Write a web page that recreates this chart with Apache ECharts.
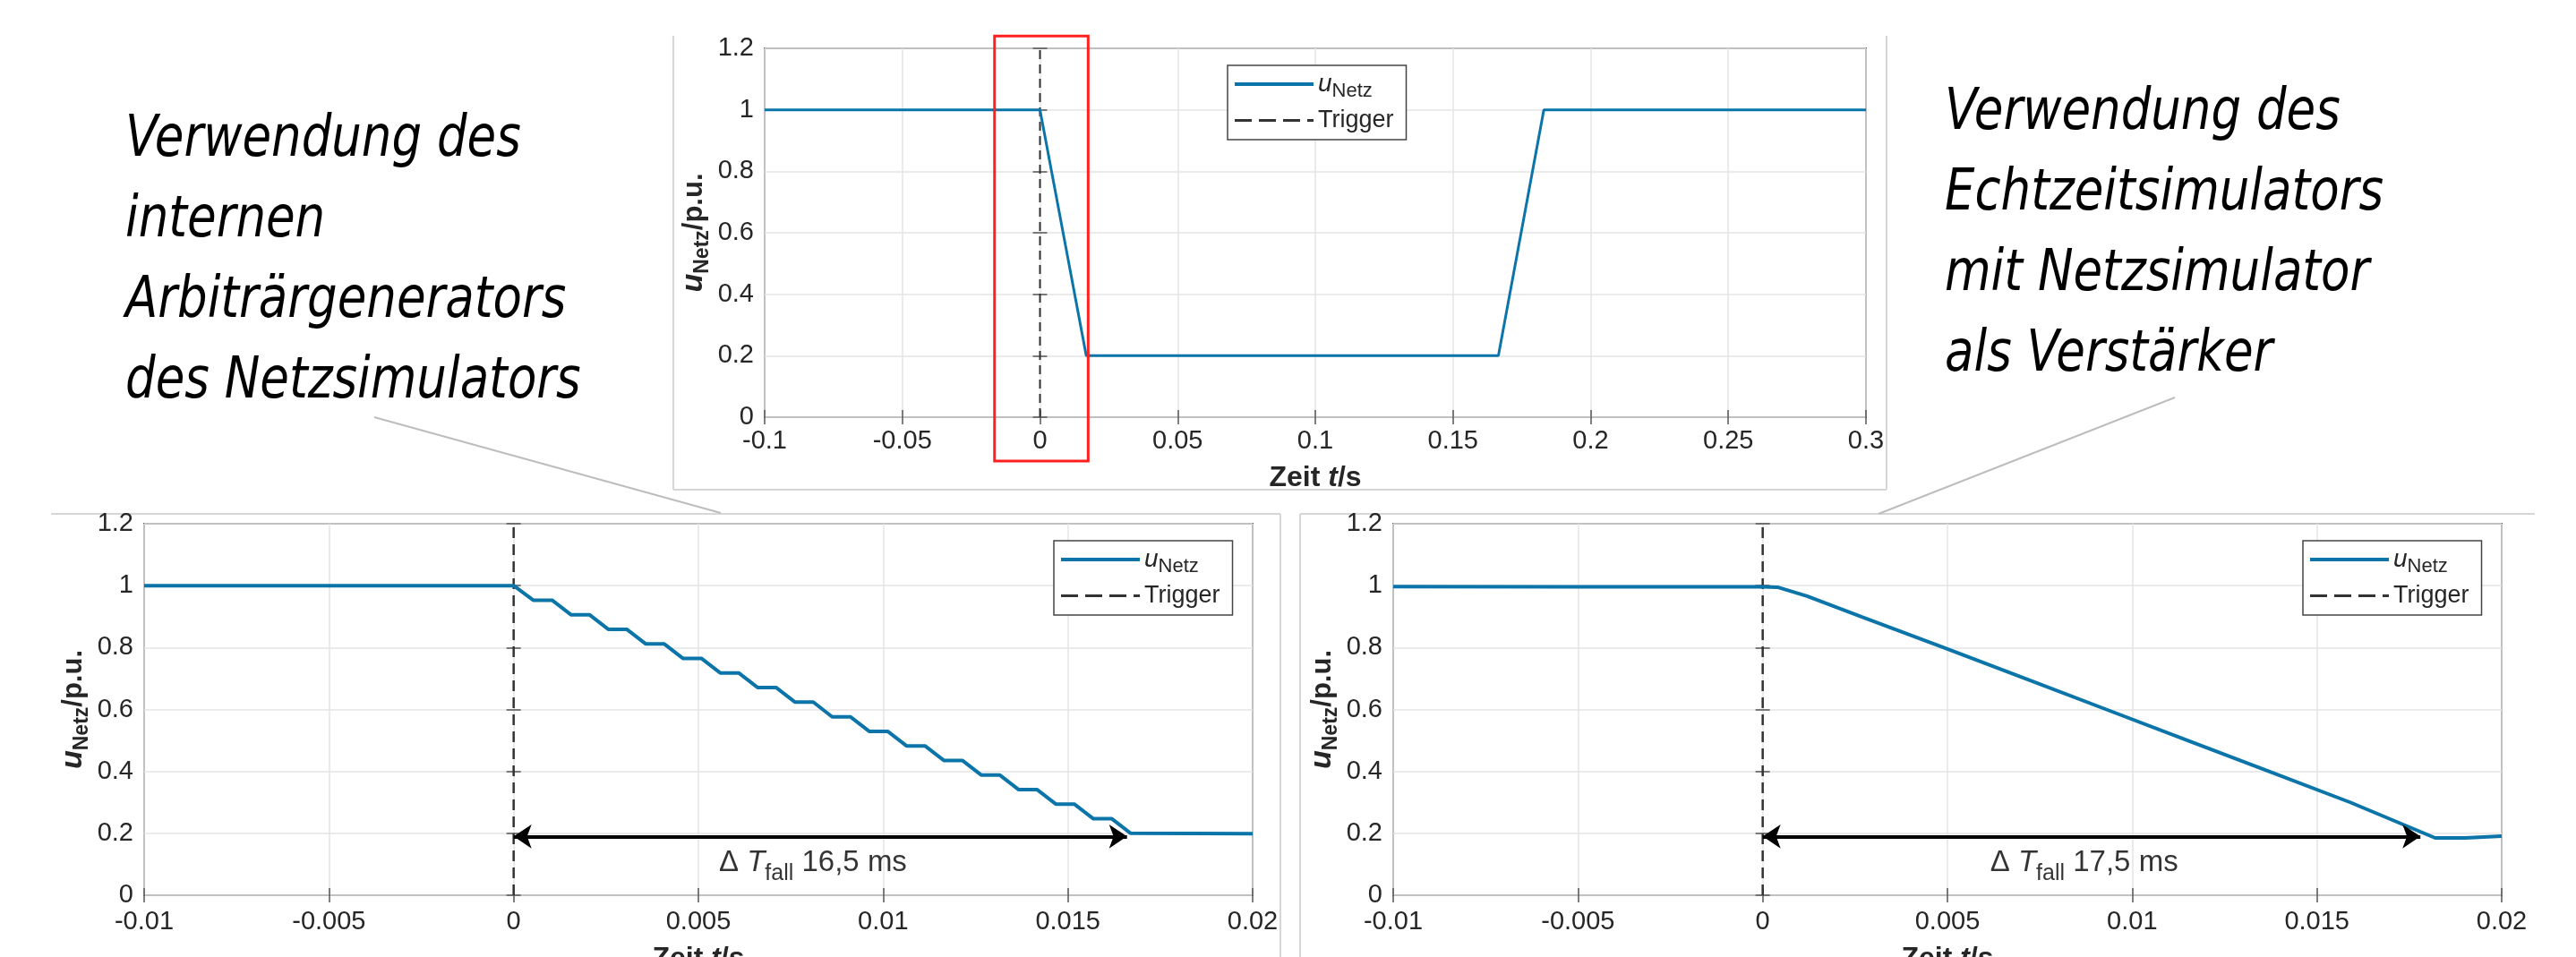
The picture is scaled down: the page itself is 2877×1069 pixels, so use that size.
<!DOCTYPE html>
<html>
<head>
<meta charset="utf-8">
<script src="https://cdn.jsdelivr.net/npm/echarts@6/dist/echarts.min.js"></script>
<style>
  html, body { margin: 0; padding: 0; background: #fff; overflow: hidden; }
  #chart { width: 2877px; height: 1069px; }
</style>
</head>
<body>
<div id="chart"></div>
<script>
// Gesamtverlauf des Spannungseinbruchs (oben)
const topTime = [-0.1, 0, 0.0168, 0.1665, 0.1830, 0.3];
const topVolt = [1.0, 1.0, 0.2, 0.2, 1.0, 1.0];

// interner Arbiträrgenerator, Zoom auf die fallende Flanke (unten links)
const leftTime = [-0.01, 0,
  0.00053, 0.00104, 0.00155, 0.00205, 0.00256, 0.00306, 0.00357, 0.00407,
  0.00458, 0.00508, 0.00559, 0.00609, 0.00660, 0.00710, 0.00761, 0.00811,
  0.00862, 0.00912, 0.00963, 0.01013, 0.01064, 0.01114, 0.01165, 0.01215,
  0.01266, 0.01316, 0.01367, 0.01417, 0.01468, 0.01518, 0.01569, 0.01619,
  0.01670, 0.020];
const leftVolt = [1.0, 1.0,
  0.953, 0.953, 0.906, 0.906, 0.859, 0.859, 0.812, 0.812,
  0.765, 0.765, 0.718, 0.718, 0.671, 0.671, 0.624, 0.624,
  0.576, 0.576, 0.529, 0.529, 0.482, 0.482, 0.435, 0.435,
  0.388, 0.388, 0.341, 0.341, 0.294, 0.294, 0.247, 0.247,
  0.200, 0.199];

// Echtzeitsimulator mit Netzsimulator als Verstärker (unten rechts)
const rightTime = [-0.01, -0.005, 0, 0.0004, 0.0012, 0.0027, 0.0049, 0.0071,
  0.0093, 0.0115, 0.0137, 0.0159, 0.0182, 0.0190, 0.0200];
const rightVolt = [0.997, 0.996, 0.996, 0.995, 0.966, 0.898, 0.800, 0.700,
  0.600, 0.500, 0.400, 0.300, 0.185, 0.185, 0.191];

const triggerTime = [0, 0];
const triggerVolt = [0, 1.2];

const topTicksX = ['-0.1', '-0.05', '0', '0.05', '0.1', '0.15', '0.2', '0.25', '0.3'];
const zoomTicksX = ['-0.01', '-0.005', '0', '0.005', '0.01', '0.015', '0.02'];
const ticksY = ['0', '0.2', '0.4', '0.6', '0.8', '1', '1.2'];

// Pfeile Delta T_fall
const fallLeft = [0, 0.0166];
const fallRight = [0, 0.0178];
const fallLevel = 0.19;
const fallLabels = ['16,5 ms', '17,5 ms'];
const fallLabelAt = [[0.0081, 0.105], [0.0087, 0.105]];

// roter Rahmen im oberen Diagramm
const redBoxTime = [-0.0165, 0.0175];
const redBoxVolt = [-0.143, 1.24];

const leftText = ['Verwendung des', 'internen', 'Arbiträrgenerators', 'des Netzsimulators'];
const rightText = ['Verwendung des', 'Echtzeitsimulators', 'mit Netzsimulator', 'als Verstärker'];

const blue = '#0b74a8';
const axisColor = '#555';
const labelColor = '#262626';
const fontFamily = '"Liberation Sans", Arial, sans-serif';
const textFont = '"Liberation Sans Narrow", "DejaVu Sans Condensed", sans-serif';

const zip = (xs, ys) => xs.map((x, i) => [x, ys[i]]);
const tickFormatter = (labels, min, step) => (v) => labels[Math.round((v - min) / step)] || '';

const chart = echarts.init(document.getElementById('chart'));

const grids = [
  { left: 854, top: 54, width: 1230, height: 412 },
  { left: 161, top: 585, width: 1238, height: 415 },
  { left: 1556, top: 585, width: 1238, height: 415 },
];

const nameRich = {
  b: { fontFamily, fontSize: 32, fontWeight: 'bold', color: labelColor },
  i: { fontFamily, fontSize: 32, fontWeight: 'bold', fontStyle: 'italic', color: labelColor },
};
const yNameRich = {
  u: { fontFamily, fontSize: 34, fontWeight: 'bold', fontStyle: 'italic', color: labelColor, lineHeight: 42 },
  s: { fontFamily, fontSize: 23, fontWeight: 'bold', color: labelColor, lineHeight: 42, verticalAlign: 'bottom' },
  n: { fontFamily, fontSize: 31, fontWeight: 'bold', color: labelColor, lineHeight: 42 },
};

function makeX(gridIndex, min, max, step, labels, margin, nameGap) {
  return [{
    type: 'value', gridIndex, min, max, interval: step, position: 'bottom',
    axisLine: { show: false },
    axisTick: { inside: true, length: 8, lineStyle: { color: axisColor, width: 1.5 } },
    axisLabel: { margin, fontSize: 29, fontFamily, color: labelColor, formatter: tickFormatter(labels, min, step) },
    splitLine: { show: true, lineStyle: { color: '#e4e4e4', width: 1.5 } },
    name: '{b|Zeit }{i|t}{b|/s}', nameLocation: 'middle', nameGap,
    nameTextStyle: { rich: nameRich },
  }, {
    type: 'value', gridIndex, min, max, interval: step, position: 'top',
    axisLine: { show: false },
    axisTick: { inside: true, length: 8, lineStyle: { color: axisColor, width: 1.5 } },
    axisLabel: { show: false }, splitLine: { show: false },
  }];
}

function makeY(gridIndex) {
  return [{
    type: 'value', gridIndex, min: 0, max: 1.2, interval: 0.2, position: 'left',
    axisLine: { show: false },
    axisTick: { inside: true, length: 8, lineStyle: { color: axisColor, width: 1.5 } },
    axisLabel: { margin: 12, fontSize: 29, fontFamily, color: labelColor, formatter: tickFormatter(ticksY, 0, 0.2) },
    splitLine: { show: true, lineStyle: { color: '#e4e4e4', width: 1.5 } },
    name: '{u|u}{s|Netz}{n|/p.u.}', nameLocation: 'middle', nameGap: 58,
    nameTextStyle: { rich: yNameRich },
  }, {
    type: 'value', gridIndex, min: 0, max: 1.2, interval: 0.2, position: 'right',
    axisLine: { show: false },
    axisTick: { inside: true, length: 8, lineStyle: { color: axisColor, width: 1.5 } },
    axisLabel: { show: false }, splitLine: { show: false },
  }];
}

// Legendensymbole wie in MATLAB: durchgezogen bzw. gestrichelt
const solidIcon = 'path://M0,0H88V4H0Z';
const dashedIcon = 'path://M0,0H19V3H0Z M27,0H46V3H27Z M54,0H73V3H54Z M81,0H88V3H81Z';

function makeLegend(left, top) {
  return {
    orient: 'vertical', left, top,
    data: [{ name: 'u_Netz', icon: solidIcon }, { name: 'Trigger', icon: dashedIcon }],
    itemWidth: 88, itemHeight: 14, itemGap: 8,
    padding: [7, 14, 8, 8],
    backgroundColor: '#fff', borderColor: '#444', borderWidth: 1.5, borderRadius: 0,
    selectedMode: false,
    formatter: (name) => name === 'u_Netz' ? '{u|u}{s|Netz}' : '{t|Trigger}',
    textStyle: {
      rich: {
        u: { fontFamily, fontSize: 28, fontStyle: 'italic', color: labelColor, lineHeight: 38 },
        s: { fontFamily, fontSize: 22, color: labelColor, lineHeight: 38, verticalAlign: 'bottom' },
        t: { fontFamily, fontSize: 27, color: labelColor, lineHeight: 32 },
      },
    },
  };
}

function voltSeries(idx, data, width) {
  return {
    name: 'u_Netz', type: 'line', xAxisIndex: 2 * idx, yAxisIndex: 2 * idx,
    data, showSymbol: false, symbol: 'none', animation: false,
    lineStyle: { color: blue, width }, itemStyle: { color: blue }, z: 3,
  };
}

function triggerSeries(idx, width, dash) {
  return {
    name: 'Trigger', type: 'line', xAxisIndex: 2 * idx, yAxisIndex: 2 * idx,
    data: zip(triggerTime, triggerVolt), showSymbol: false, symbol: 'none', animation: false,
    lineStyle: { color: '#333', width, type: dash }, itemStyle: { color: '#333' }, z: 2,
  };
}

function fallSeries(idx, span, label, at) {
  return [{
    type: 'lines', coordinateSystem: 'cartesian2d', xAxisIndex: 2 * idx, yAxisIndex: 2 * idx,
    data: [{ coords: [[span[0], fallLevel], [span[1], fallLevel]] }],
    symbol: ['arrow', 'arrow'], symbolSize: 20,
    lineStyle: { color: '#000', width: 4, opacity: 1 }, z: 5, animation: false,
  }, {
    type: 'scatter', xAxisIndex: 2 * idx, yAxisIndex: 2 * idx,
    data: [at], symbolSize: 1, itemStyle: { color: 'rgba(0,0,0,0)' }, animation: false,
    label: {
      show: true, position: 'inside',
      formatter: '{d|Δ }{t|T}{s|fall}{n| ' + label + '}',
      rich: {
        d: { fontFamily, fontSize: 33, color: '#000', lineHeight: 50 },
        t: { fontFamily, fontSize: 33, fontStyle: 'italic', color: '#000', lineHeight: 50 },
        s: { fontFamily, fontSize: 25, color: '#000', lineHeight: 50, verticalAlign: 'bottom' },
        n: { fontFamily, fontSize: 33, color: '#000', lineHeight: 50 },
      },
    },
  }];
}

const option = {
  animation: false,
  backgroundColor: '#fff',
  grid: grids.map((g) => ({
    ...g, show: true, borderColor: axisColor, borderWidth: 2, backgroundColor: '#fff',
    containLabel: false, outerBoundsMode: 'none',
  })),
  xAxis: [
    ...makeX(0, -0.1, 0.3, 0.05, topTicksX, 12, 52),
    ...makeX(1, -0.01, 0.02, 0.005, zoomTicksX, 15, 55),
    ...makeX(2, -0.01, 0.02, 0.005, zoomTicksX, 15, 55),
  ],
  yAxis: [...makeY(0), ...makeY(1), ...makeY(2)],
  legend: [makeLegend(1371, 73), makeLegend(1177, 604), makeLegend(2572, 604)],
  series: [
    triggerSeries(0, 2, [10, 6]),
    voltSeries(0, zip(topTime, topVolt), 3),
    triggerSeries(1, 2.5, [12, 7]),
    voltSeries(1, zip(leftTime, leftVolt), 4),
    ...fallSeries(1, fallLeft, fallLabels[0], fallLabelAt[0]),
    triggerSeries(2, 2.5, [12, 7]),
    voltSeries(2, zip(rightTime, rightVolt), 4),
    ...fallSeries(2, fallRight, fallLabels[1], fallLabelAt[1]),
  ],
};
chart.setOption(option);

// Rahmen, Verbindungslinien, Beschriftung
const frame = { stroke: '#d6d6d6', lineWidth: 2 };
const connector = { stroke: '#bdbdbd', lineWidth: 2 };
const p0 = chart.convertToPixel({ xAxisIndex: 0, yAxisIndex: 0 }, [redBoxTime[0], redBoxVolt[1]]);
const p1 = chart.convertToPixel({ xAxisIndex: 0, yAxisIndex: 0 }, [redBoxTime[1], redBoxVolt[0]]);

const textBlock = (lines, x, y) => ({
  type: 'text', x, y, z: 10, scaleX: 0.92,
  style: {
    text: lines.join('\n'), fill: '#000',
    fontFamily: textFont, fontSize: 64, fontStyle: 'italic',
    lineHeight: 90, verticalAlign: 'top', align: 'left',
  },
});

chart.setOption({
  graphic: { elements: [
    { type: 'line', shape: { x1: 752, y1: 40, x2: 752, y2: 547 }, style: frame },
    { type: 'line', shape: { x1: 752, y1: 547, x2: 2107, y2: 547 }, style: frame },
    { type: 'line', shape: { x1: 2107, y1: 40, x2: 2107, y2: 547 }, style: frame },
    { type: 'line', shape: { x1: 57, y1: 574, x2: 1430, y2: 574 }, style: frame },
    { type: 'line', shape: { x1: 1430, y1: 574, x2: 1430, y2: 1069 }, style: frame },
    { type: 'line', shape: { x1: 1452, y1: 574, x2: 2831, y2: 574 }, style: frame },
    { type: 'line', shape: { x1: 1452, y1: 574, x2: 1452, y2: 1069 }, style: frame },
    { type: 'line', shape: { x1: 418, y1: 466, x2: 805, y2: 573 }, style: connector },
    { type: 'line', shape: { x1: 2429, y1: 444, x2: 2098, y2: 574 }, style: connector },
    {
      type: 'rect', z: 20,
      shape: { x: p0[0], y: p0[1], width: p1[0] - p0[0], height: p1[1] - p0[1] },
      style: { fill: 'none', stroke: '#ff1f1f', lineWidth: 3 },
    },
    textBlock(leftText, 140, 112),
    textBlock(rightText, 2172, 82),
  ] },
});

window.addEventListener('resize', () => chart.resize());
</script>
</body>
</html>
